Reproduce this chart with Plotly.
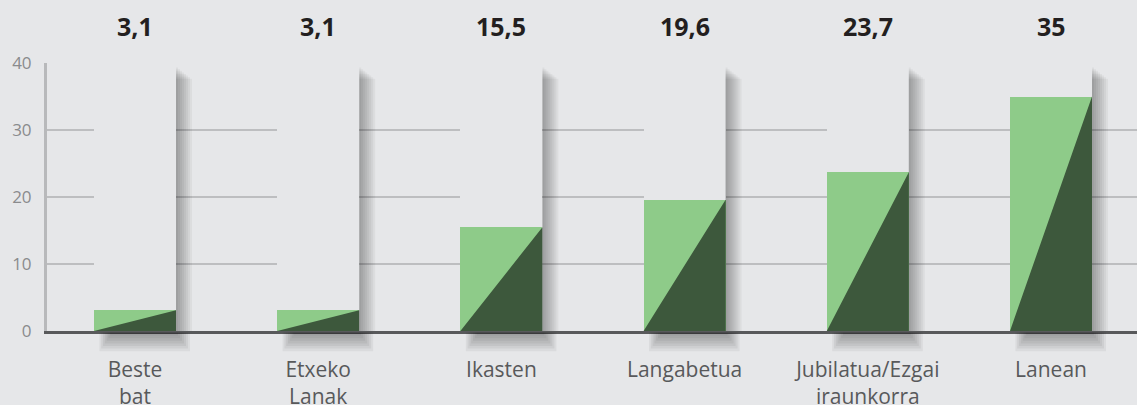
import plotly.graph_objects as go

categories = ["Beste<br>bat", "Etxeko<br>Lanak", "Ikasten", "Langabetua", "Jubilatua/Ezgai<br>iraunkorra", "Lanean"]
values = [3.1, 3.1, 15.5, 19.6, 23.7, 35]
y_ticks = [0, 10, 20, 30, 40]

BG = "#E6E7E9"
LIGHT = "#8ECB89"
DARK = "#3D583C"
FONT = "Open Sans"

x = list(range(len(categories)))
w = 0.4476
ymax = 40
px_x = 183.2   # pixels per category unit
px_y = 6.7     # pixels per y unit
plot_h = 268.0

fig = go.Figure()

# column behind each bar (hides the gridlines)
fig.add_trace(go.Bar(x=x, y=[ymax] * len(x), width=w, marker=dict(color=BG, line=dict(width=0)),
                     hoverinfo="skip", showlegend=False))
# light green bar
fig.add_trace(go.Bar(x=x, y=values, width=w, marker=dict(color=LIGHT, line=dict(width=0)),
                     showlegend=False))
# dark triangle over the bar
tx, ty = [], []
for i, v in zip(x, values):
    tx += [i - w / 2, i + w / 2, i + w / 2, i - w / 2, None]
    ty += [0, v, 0, 0, None]
fig.add_trace(go.Scatter(x=tx, y=ty, mode="lines", fill="toself", fillcolor=DARK,
                         line=dict(width=0), hoverinfo="skip", showlegend=False))

# soft shadows
shapes = []
for i in x:
    xr = i + w / 2
    for k in range(1, 9):
        shapes.append(dict(type="rect", xref="x", yref="y", layer="above",
                           x0=xr, x1=xr + k * 2 / px_x, y0=0,
                           y1=ymax - (3 + k * 1.6) / px_y,
                           fillcolor="rgba(0,0,0,0.045)", line=dict(width=0)))
    for k in range(1, 8):
        shapes.append(dict(type="rect", xref="x", yref="paper", layer="above",
                           x0=i - w / 2 + (18 - k * 1.8) / px_x, x1=xr + k * 2 / px_x,
                           y0=-(2 + k * 2.6) / plot_h, y1=-1.5 / plot_h,
                           fillcolor="rgba(0,0,0,0.05)", line=dict(width=0)))

annotations = []
for i, v in zip(x, values):
    label = f"{v:g}".replace(".", ",")
    annotations.append(dict(x=i, y=1, xref="x", yref="paper", yanchor="middle", yshift=37,
                            text=f"<b>{label}</b>", showarrow=False,
                            font=dict(family=FONT, size=25, color="#231F20")))

fig.update_layout(
    width=1137, height=405,
    margin=dict(l=47, r=0, t=63, b=74),
    paper_bgcolor=BG, plot_bgcolor=BG,
    barmode="overlay", bargap=0,
    shapes=shapes, annotations=annotations,
    font=dict(family=FONT),
)
fig.update_xaxes(range=[(47 - 135) / px_x, (1137 - 135) / px_x], tickvals=x, ticktext=categories,
                 showgrid=False, zeroline=False, showline=True, linecolor="#58595B", linewidth=2.5,
                 ticks="", ticklabelstandoff=18, automargin=False,
                 tickfont=dict(family=FONT, size=21, color="#58595B"))
fig.update_yaxes(range=[0, ymax], tickvals=y_ticks, showgrid=True, gridcolor="#BDBEC0", gridwidth=2,
                 zeroline=False, showline=True, linecolor="#B8B9BB", linewidth=3,
                 ticks="", ticklabelstandoff=9, automargin=False,
                 tickfont=dict(family=FONT, size=17, color="#8A8B8D"))

fig.write_html("out.html", config={"displayModeBar": False},
               post_script="document.body.style.margin='0';")
